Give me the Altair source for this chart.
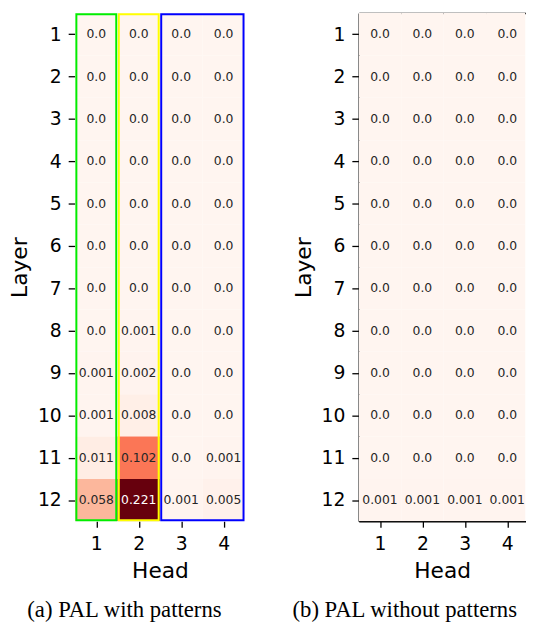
import altair as alt
import pandas as pd

heads = [1, 2, 3, 4]
layers = [1, 2, 3, 4, 5, 6, 7, 8, 9, 10, 11, 12]

# rows = layers 1..12, columns = heads 1..4
with_patterns = [
    [0.0, 0.0, 0.0, 0.0],
    [0.0, 0.0, 0.0, 0.0],
    [0.0, 0.0, 0.0, 0.0],
    [0.0, 0.0, 0.0, 0.0],
    [0.0, 0.0, 0.0, 0.0],
    [0.0, 0.0, 0.0, 0.0],
    [0.0, 0.0, 0.0, 0.0],
    [0.0, 0.001, 0.0, 0.0],
    [0.001, 0.002, 0.0, 0.0],
    [0.001, 0.008, 0.0, 0.0],
    [0.011, 0.102, 0.0, 0.001],
    [0.058, 0.221, 0.001, 0.005],
]
without_patterns = [
    [0.0, 0.0, 0.0, 0.0],
    [0.0, 0.0, 0.0, 0.0],
    [0.0, 0.0, 0.0, 0.0],
    [0.0, 0.0, 0.0, 0.0],
    [0.0, 0.0, 0.0, 0.0],
    [0.0, 0.0, 0.0, 0.0],
    [0.0, 0.0, 0.0, 0.0],
    [0.0, 0.0, 0.0, 0.0],
    [0.0, 0.0, 0.0, 0.0],
    [0.0, 0.0, 0.0, 0.0],
    [0.0, 0.0, 0.0, 0.0],
    [0.001, 0.001, 0.001, 0.001],
]

# pattern groups drawn as boxes on panel (a)
pattern_first_head = [1, 2, 3]
pattern_last_head = [1, 2, 4]
pattern_colors = ["#00ee00", "#ffff00", "#0000ff"]

captions = ["(a) PAL with patterns", "(b) PAL without patterns"]

# matplotlib "Reds" colormap anchors
reds = ["#fff5f0", "#fee0d2", "#fcbba1", "#fc9272", "#fb6a4a",
        "#ef3b2c", "#cb181d", "#a50f15", "#67000d"]
vmax = 0.221

COL = 43
W_LEFT, H = 172, 515
W_RIGHT = 169
INSET_X = 0.47
INSET_Y = 0.475


def cell_frame(values):
    rows = []
    for i, layer in enumerate(layers):
        for j, head in enumerate(heads):
            v = values[i][j]
            rows.append({
                "layer": layer, "head": head, "value": v,
                "label": str(round(v, 3)),
                "x0": head - 0.5, "x1": head + 0.5,
                "y0": layer - 0.5, "y1": layer + 0.5,
            })
    return pd.DataFrame(rows)


color_scale = alt.Scale(domain=[vmax * k / 8 for k in range(9)], range=reds,
                        interpolate="rgb")
yscale = alt.Scale(domain=[0.5, 12.5], nice=False, zero=False, reverse=True)


def panel(values, caption_title, boxes, width, framed):
    xmax = 0.5 + width / COL
    xscale = alt.Scale(domain=[0.5, xmax], nice=False, zero=False, clamp=True)
    xaxis = alt.Axis(title="Head", values=heads, format="d", labelAngle=0,
                     tickSize=6, labelPadding=8, titlePadding=7,
                     domain=framed, domainColor="black", domainWidth=1.5)
    yaxis = alt.Axis(title="Layer", values=layers, format="d",
                     tickSize=7, labelPadding=7, titlePadding=6,
                     domain=framed, domainColor="black", domainWidth=1.5)
    df = cell_frame(values)
    base = alt.Chart(df)
    heat = base.mark_rect(clip=True).encode(
        x=alt.X("x0:Q", scale=xscale, axis=xaxis),
        x2="x1:Q",
        y=alt.Y("y0:Q", scale=yscale, axis=yaxis),
        y2="y1:Q",
        color=alt.Color("value:Q", scale=color_scale, legend=None),
    )
    text = base.mark_text(font="DejaVu Sans", fontSize=12.5, clip=True).encode(
        x=alt.X("head:Q", scale=xscale, axis=None if framed else xaxis),
        y=alt.Y("layer:Q", scale=yscale, axis=yaxis),
        text="label:N",
        color=alt.condition("datum.value > 0.15", alt.value("white"),
                            alt.value("#262626")),
    )
    parts = [heat, text]
    if boxes:
        bdf = pd.DataFrame({
            "first": pattern_first_head,
            "last": pattern_last_head,
            "col": pattern_colors,
        })
        bdf["bx0"] = bdf["first"] - INSET_X
        bdf["bx1"] = bdf["last"] + INSET_X
        bdf["by0"] = layers[0] - INSET_Y
        bdf["by1"] = layers[-1] + INSET_Y
        box = alt.Chart(bdf).mark_rect(filled=False, strokeWidth=2).encode(
            x=alt.X("bx0:Q", scale=xscale, axis=xaxis),
            x2="bx1:Q",
            y=alt.Y("by0:Q", scale=yscale, axis=yaxis),
            y2="by1:Q",
            stroke=alt.Stroke("col:N", scale=None),
        )
        parts.append(box)
    result = alt.layer(*parts)
    if framed:
        topline = base.mark_text(clip=True, opacity=0).encode(
            x=alt.X("head:Q", scale=xscale,
                    axis=alt.Axis(orient="top", title=None, labels=False,
                                  ticks=False, domain=True,
                                  domainColor="black", domainWidth=1.5)),
            y=alt.Y("layer:Q", scale=yscale, axis=yaxis),
            text="label:N",
        )
        result = alt.layer(*parts, topline).resolve_axis(x="independent")
    return result.properties(width=width, height=H, title=caption_title)


cap_style = dict(orient="bottom", font="Liberation Serif", fontSize=23,
                 fontWeight="normal", color="black", offset=18)
left = panel(with_patterns,
             alt.TitleParams(text=captions[0], anchor="middle", dx=-36,
                             **cap_style),
             True, W_LEFT, False)
right = panel(without_patterns,
              alt.TitleParams(text=captions[1], anchor="start",
                              frame="bounds", **cap_style),
              False, W_RIGHT, True)

chart = alt.hconcat(left, right, spacing=47.5).properties(
    padding={"left": 0, "top": 1, "right": 0, "bottom": 0}
).configure_axis(
    labelFont="DejaVu Sans", titleFont="DejaVu Sans",
    labelFontSize=19, titleFontSize=22, titleFontWeight="normal",
    labelColor="black", titleColor="black", tickColor="black",
    tickWidth=1.3, grid=False, domain=False,
).configure_view(strokeWidth=0)

chart.save("out.html", embed_options={"renderer": "svg", "actions": False})
